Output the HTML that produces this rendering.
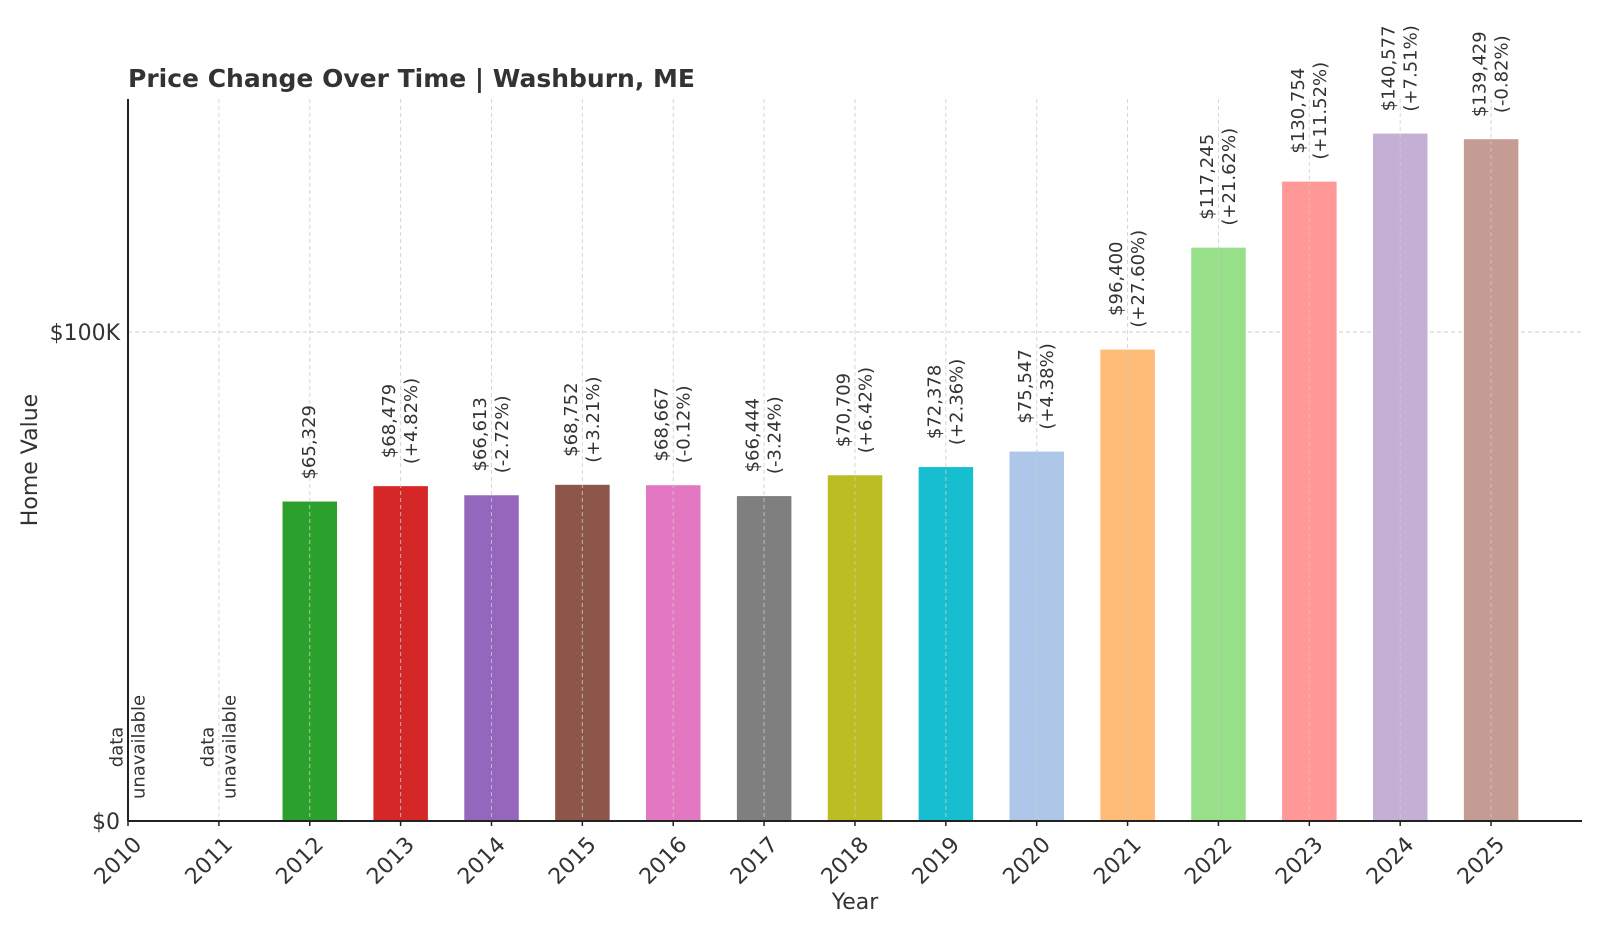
<!DOCTYPE html>
<html><head><meta charset="utf-8"><style>
html,body{margin:0;padding:0;background:#fff}
svg text{font-family:"DejaVu Sans","Liberation Sans",sans-serif;fill:#333}
</style></head><body>
<svg id="chart" width="1600" height="933" xmlns="http://www.w3.org/2000/svg">
<text x="128" y="87" font-size="25" font-weight="bold" style="fill:#333">Price Change Over Time | Washburn, ME</text>
<g id="grid"></g><g id="bars"></g><g id="gridv"></g><g id="labels"></g><g id="axes"></g>
<text transform="translate(37,460) rotate(-90)" text-anchor="middle" font-size="22">Home Value</text>
<text x="855" y="909" text-anchor="middle" font-size="22">Year</text>
</svg>
<script>
const years=[2010,2011,2012,2013,2014,2015,2016,2017,2018,2019,2020,2021,2022,2023,2024,2025];
const values=[null,null,65329,68479,66613,68752,68667,66444,70709,72378,75547,96400,117245,130754,140577,139429];
const changes=[null,null,null,"+4.82%","-2.72%","+3.21%","-0.12%","-3.24%","+6.42%","+2.36%","+4.38%","+27.60%","+21.62%","+11.52%","+7.51%","-0.82%"];
const colors=["#1f77b4","#ff7f0e","#2ca02c","#d62728","#9467bd","#8c564b","#e377c2","#7f7f7f","#bcbd22","#17becf","#aec7e8","#ffbb78","#98df8a","#ff9896","#c5b0d5","#c49c94"];
const yTicks=[0,100000];
const yTickLabels=["$0","$100K"];
const NS="http://www.w3.org/2000/svg";
const x0=128,step=90.87,y0=821,ppu=489/100000,topY=99,rightX=1582;
const X=i=>x0+i*step;
const Y=v=>y0-v*ppu;
function mk(t,a,p){const e=document.createElementNS(NS,t);for(const k in a)e.setAttribute(k,a[k]);p.appendChild(e);return e;}
const grid=document.getElementById('grid'),bars=document.getElementById('bars'),gv=document.getElementById('gridv'),lab=document.getElementById('labels'),ax=document.getElementById('axes');
yTicks.forEach((t,i)=>{
 if(t>0){const l=mk('line',{x1:x0,x2:rightX,y1:Y(t),y2:Y(t),stroke:'#ccc','stroke-dasharray':'4,3','stroke-width':1},grid);
 
 }
 const tx=mk('text',{x:x0-8,y:Y(t)+8,'text-anchor':'end','font-size':22},ax);
 tx.textContent=yTickLabels[i];
 
 
});
years.forEach((yr,i)=>{
 const cx=X(i);
 const g=mk('line',{x1:cx,x2:cx,y1:topY,y2:y0,stroke:'#ccc','stroke-dasharray':'4,3','stroke-width':1,opacity:0.8},gv);
 
 
 mk('line',{x1:cx,x2:cx,y1:y0,y2:y0+5,stroke:'#222','stroke-width':1.5},ax);
 const tl=mk('text',{transform:`translate(${cx+4},${y0+14}) rotate(-45)`,'text-anchor':'end','font-size':22,dy:'0.7em'},ax);
 tl.textContent=yr;
 
 
 const v=values[i];
 let lines;
 if(v!=null){
  const r=mk('rect',{x:cx-27.2,y:Y(v),width:54.5,height:y0-Y(v),fill:colors[i]},bars);
  
  
  lines=['$'+v.toLocaleString('en-US')];
  if(changes[i])lines.push('('+changes[i]+')');
 } else lines=['data','unavailable'];
 const base=v!=null?Y(v):y0;
 const gg=mk('g',{},lab);
 
 
 const n=lines.length;const els=[];
 lines.forEach((s,j)=>{
  const off=(j-(n-1)/2)*22;
  const t=mk('text',{'font-size':18,'text-anchor':'middle','dominant-baseline':'central'},gg);
  t.textContent=s;els.push([t,off]);
 });
 let L=0;els.forEach(([t])=>{let w=0;try{w=t.getComputedTextLength();}catch(e){w=t.textContent.length*10.5;}L=Math.max(L,w);});
 const cy=base-22-L/2;
 els.forEach(([t,off])=>{t.setAttribute('transform',`translate(${cx+off},${cy}) rotate(-90)`);});
});
mk('line',{x1:x0,x2:x0,y1:topY,y2:y0,stroke:'#222','stroke-width':2},ax);
mk('line',{x1:x0,x2:rightX,y1:y0,y2:y0,stroke:'#222','stroke-width':2},ax);
</script>
</body></html>
